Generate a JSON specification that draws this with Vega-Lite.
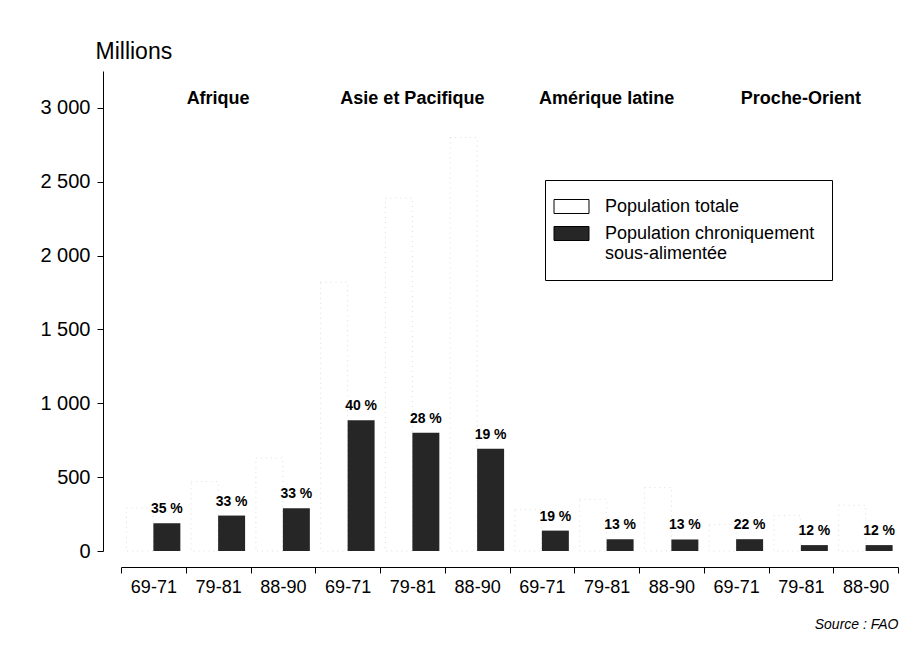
{
  "$schema": "https://vega.github.io/schema/vega-lite/v6.json",
  "width": 777,
  "height": 480,
  "autosize": {"type": "none"},
  "padding": {"left": 121, "top": 71, "right": 20, "bottom": 97},
  "background": "white",
  "config": {"font": "Liberation Sans", "view": {"stroke": null}},
  "title": {"text": "Source : FAO", "orient": "bottom", "anchor": "end", "fontStyle": "italic", "fontWeight": "normal", "fontSize": 14, "offset": 22, "color": "black"},
  "data": {"values": [
      {"groupe": "Afrique 69-71", "serie": "Population totale", "valeur": 290, "pct": "", "region": ""},
      {"groupe": "Afrique 69-71", "serie": "Population chroniquement sous-alimentée", "valeur": 188, "pct": "35 %", "region": ""},
      {"groupe": "Afrique 79-81", "serie": "Population totale", "valeur": 470, "pct": "", "region": ""},
      {"groupe": "Afrique 79-81", "serie": "Population chroniquement sous-alimentée", "valeur": 240, "pct": "33 %", "region": "Afrique"},
      {"groupe": "Afrique 88-90", "serie": "Population totale", "valeur": 630, "pct": "", "region": ""},
      {"groupe": "Afrique 88-90", "serie": "Population chroniquement sous-alimentée", "valeur": 290, "pct": "33 %", "region": ""},
      {"groupe": "Asie 69-71", "serie": "Population totale", "valeur": 1820, "pct": "", "region": ""},
      {"groupe": "Asie 69-71", "serie": "Population chroniquement sous-alimentée", "valeur": 885, "pct": "40 %", "region": ""},
      {"groupe": "Asie 79-81", "serie": "Population totale", "valeur": 2390, "pct": "", "region": ""},
      {"groupe": "Asie 79-81", "serie": "Population chroniquement sous-alimentée", "valeur": 800, "pct": "28 %", "region": "Asie et Pacifique"},
      {"groupe": "Asie 88-90", "serie": "Population totale", "valeur": 2800, "pct": "", "region": ""},
      {"groupe": "Asie 88-90", "serie": "Population chroniquement sous-alimentée", "valeur": 693, "pct": "19 %", "region": ""},
      {"groupe": "Amérique 69-71", "serie": "Population totale", "valeur": 280, "pct": "", "region": ""},
      {"groupe": "Amérique 69-71", "serie": "Population chroniquement sous-alimentée", "valeur": 138, "pct": "19 %", "region": ""},
      {"groupe": "Amérique 79-81", "serie": "Population totale", "valeur": 350, "pct": "", "region": ""},
      {"groupe": "Amérique 79-81", "serie": "Population chroniquement sous-alimentée", "valeur": 80, "pct": "13 %", "region": "Amérique latine"},
      {"groupe": "Amérique 88-90", "serie": "Population totale", "valeur": 430, "pct": "", "region": ""},
      {"groupe": "Amérique 88-90", "serie": "Population chroniquement sous-alimentée", "valeur": 78, "pct": "13 %", "region": ""},
      {"groupe": "Proche-Orient 69-71", "serie": "Population totale", "valeur": 180, "pct": "", "region": ""},
      {"groupe": "Proche-Orient 69-71", "serie": "Population chroniquement sous-alimentée", "valeur": 80, "pct": "22 %", "region": ""},
      {"groupe": "Proche-Orient 79-81", "serie": "Population totale", "valeur": 240, "pct": "", "region": ""},
      {"groupe": "Proche-Orient 79-81", "serie": "Population chroniquement sous-alimentée", "valeur": 40, "pct": "12 %", "region": "Proche-Orient"},
      {"groupe": "Proche-Orient 88-90", "serie": "Population totale", "valeur": 310, "pct": "", "region": ""},
      {"groupe": "Proche-Orient 88-90", "serie": "Population chroniquement sous-alimentée", "valeur": 40, "pct": "12 %", "region": ""}
  ]},
  "encoding": {
    "x": {
      "field": "groupe", "type": "nominal", "sort": null,
      "scale": {"paddingInner": 0, "paddingOuter": 0},
      "axis": {"title": null, "offset": 16, "tickBand": "extent", "tickSize": 6, "labelFontSize": 18, "labelPadding": 5, "labelAngle": 0, "labelExpr": "isString(datum.value) ? slice(datum.value, -5) : ''", "domainColor": "black", "tickColor": "black", "labelColor": "black", "grid": false}
    }
  },
  "layer": [
    {
      "transform": [{"filter": "datum.serie == 'Population totale'"}],
      "mark": {"type": "bar", "stroke": "#dcdcdc", "strokeWidth": 1, "strokeDash": [1, 4]},
      "encoding": {
        "xOffset": {"field": "serie", "type": "nominal", "scale": {"domain": ["Population totale", "Population chroniquement sous-alimentée"], "paddingOuter": 0.2, "paddingInner": 0}},
        "y": {"field": "valeur", "type": "quantitative", "scale": {"domain": [0, 3250], "nice": false},
          "axis": {"offset": 18, "values": [0, 250, 500, 750, 1000, 1250, 1500, 1750, 2000, 2250, 2500, 2750, 3000], "labelExpr": "datum.value % 500 == 0 ? replace(format(datum.value, ','), ',', ' ') : ''", "tickSize": 6, "labelFontSize": 20, "labelPadding": 7, "labelColor": "black", "domainColor": "black", "tickColor": "black", "grid": false, "title": "Millions", "titleAngle": 0, "titleAlign": "left", "titleBaseline": "alphabetic", "titleX": -8, "titleY": -13, "titleFontSize": 23, "titleFontWeight": "normal", "titleColor": "black"}},
        "color": {"field": "serie", "type": "nominal", "scale": {"domain": ["Population totale", "Population chroniquement sous-alimentée"], "range": ["#ffffff", "#262626"]},
          "legend": {"orient": "none", "legendX": 424, "legendY": 109, "title": null, "strokeColor": "black", "padding": 17, "symbolType": "M-2,-0.8H2V0.8H-2Z", "symbolSize": 306, "symbolStrokeColor": "black", "symbolStrokeWidth": 1, "symbolDash": [], "symbolOpacity": 1, "labelFontSize": 18, "labelColor": "black", "labelOffset": 24, "labelLimit": 400, "rowPadding": 8, "labelExpr": "datum.label == 'Population totale' ? datum.label : ['Population chroniquement', 'sous-alimentée']"}}
      }
    },
    {
      "transform": [{"filter": "datum.serie != 'Population totale'"}],
      "mark": {"type": "bar"},
      "encoding": {
        "xOffset": {"field": "serie", "type": "nominal"},
        "y": {"field": "valeur", "type": "quantitative"},
        "color": {"field": "serie", "type": "nominal"}
      }
    },
    {
      "transform": [{"filter": "datum.serie != 'Population totale'"}],
      "mark": {"type": "text", "baseline": "bottom", "dy": -7, "fontSize": 14, "fontWeight": "bold", "color": "black"},
      "encoding": {
        "xOffset": {"field": "serie", "type": "nominal"},
        "y": {"field": "valeur", "type": "quantitative"},
        "text": {"field": "pct"}
      }
    },
    {
      "transform": [{"filter": "datum.region != ''"}],
      "mark": {"type": "text", "baseline": "middle", "fontSize": 18, "fontWeight": "bold", "color": "black"},
      "encoding": {
        "y": {"datum": 3060, "type": "quantitative"},
        "text": {"field": "region"}
      }
    }
  ]
}
